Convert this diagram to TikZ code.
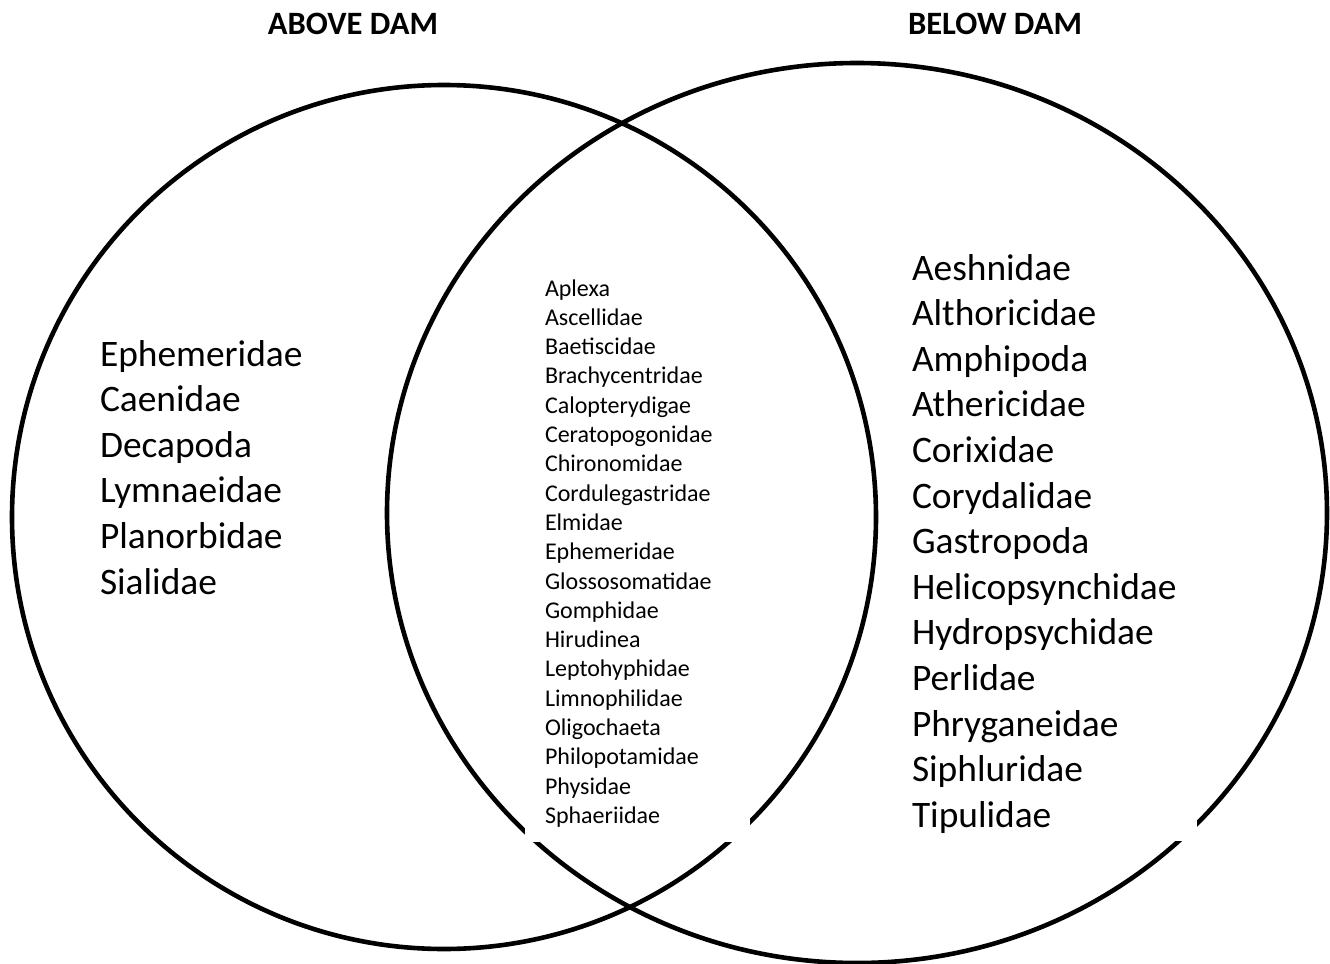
\documentclass[tikz,border=0pt]{standalone}
\usepackage{fontspec}
\setmainfont{Carlito}
\tikzset{
	ring/.style      = {line width=2.3pt},
	heading/.style   = {font=\fontsize{16.3pt}{19.6pt}\selectfont\bfseries},
	listbox/.style   = {fill=white, align=left, outer sep=0pt, anchor=base west},
	biglist/.style   = {listbox, font=\fontsize{18.7pt}{22.8pt}\selectfont},
	smalllist/.style = {listbox, font=\fontsize{12pt}{14.65pt}\selectfont}
}
\begin{document}
\begin{tikzpicture}[x=0.5pt, y=-0.5pt]
		\useasboundingbox (0,0) rectangle (1330,964);
		% the two sets
		\draw[ring] (444,517) circle [radius=432];
		\draw[ring] (857,513) ellipse [x radius=470, y radius=450];
		\node[heading] (above) at (353,24) {ABOVE DAM};
		\node[heading] (below) at (995,24) {BELOW DAM};
		% families found in only one set, or in both
		\node[biglist, text width=120pt, inner xsep=5pt, inner ysep=4pt] (onlyA) at (90,366)
			{Ephemeridae\\Caenidae\\Decapoda\\Lymnaeidae\\Planorbidae\\Sialidae};
		\node[smalllist, text width=92.5pt, inner xsep=10pt, inner ysep=7.5pt] (both) at (525,296)
			{Aplexa\\Ascellidae\\Baetiscidae\\Brachycentridae\\Calopterydigae\\Ceratopogonidae\\
			 Chironomidae\\Cordulegastridae\\Elmidae\\Ephemeridae\\Glossosomatidae\\Gomphidae\\
			 Hirudinea\\Leptohyphidae\\Limnophilidae\\Oligochaeta\\Philopotamidae\\Physidae\\Sphaeriidae};
		\node[biglist, text width=137.5pt, inner xsep=5pt, inner ysep=4pt] (onlyB) at (902,280)
			{Aeshnidae\\Althoricidae\\Amphipoda\\Athericidae\\Corixidae\\Corydalidae\\Gastropoda\\
			 Helicopsynchidae\\Hydropsychidae\\Perlidae\\Phryganeidae\\Siphluridae\\Tipulidae};
	\end{tikzpicture}
\end{document}
